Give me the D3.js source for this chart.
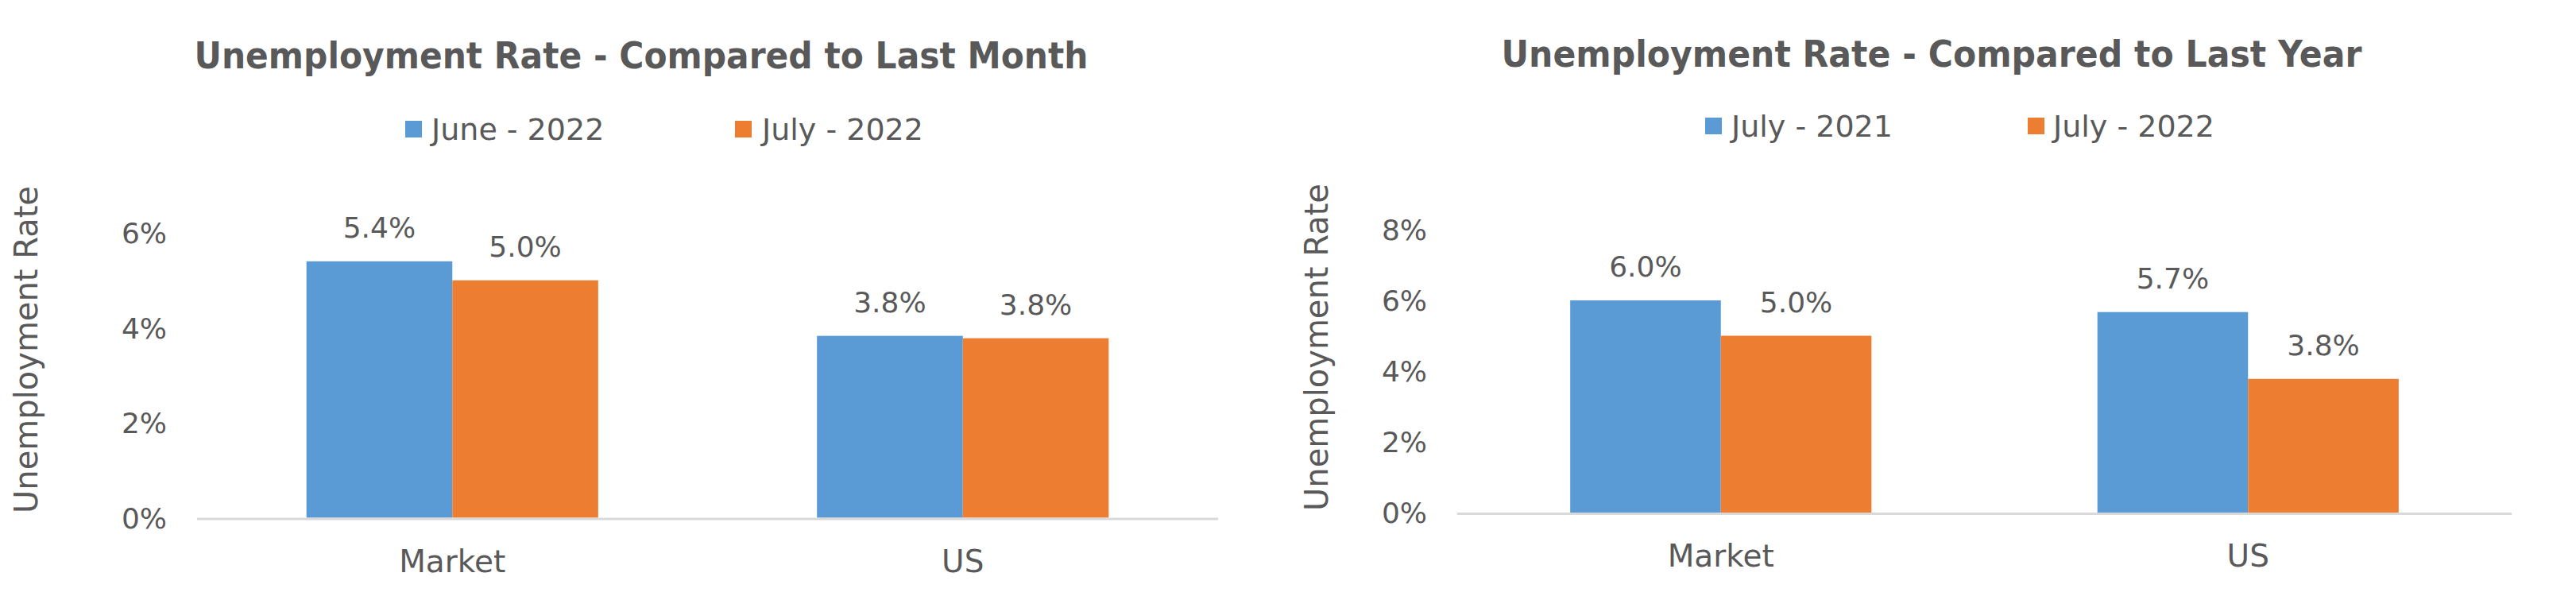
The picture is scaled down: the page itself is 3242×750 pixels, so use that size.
<!DOCTYPE html>
<html>
<head>
<meta charset="utf-8">
<script src="https://cdn.jsdelivr.net/npm/d3@7"></script>
<style>
  html, body { margin: 0; padding: 0; background: #ffffff; }
  svg { display: block; }
  text { font-family: "DejaVu Sans", "Open Sans", sans-serif; fill: #595959; }
</style>
</head>
<body>
<svg id="chart" width="3242" height="750"></svg>
<script>
// ---------------- DATA ----------------
const categories = ["Market", "US"];

const monthTitle = "Unemployment Rate - Compared to Last Month";
const monthSeriesNames = ["June - 2022", "July - 2022"];
const monthJune2022 = [5.4, 3.83];
const monthJuly2022 = [5.0, 3.78];
const monthTicks = [0, 2, 4, 6];

const yearTitle = "Unemployment Rate - Compared to Last Year";
const yearSeriesNames = ["July - 2021", "July - 2022"];
const yearJuly2021 = [6.0, 5.67];
const yearJuly2022 = [5.0, 3.78];
const yearTicks = [0, 2, 4, 6, 8];

const axisTitle = "Unemployment Rate";
const seriesColors = ["#5B9BD5", "#ED7D31"];

// ---------------- LAYOUT ----------------
const svg = d3.select("#chart");

const panels = [
  {
    title: monthTitle, names: monthSeriesNames, series: [monthJune2022, monthJuly2022], ticks: monthTicks,
    titleX: 807, titleY: 86, titleLen: 1125,
    legendSquareX: [510, 925], legendTextX: [543, 959], legendY: 152,
    plotX: [248, 1533], plotY: [651.5, 293],
    yTitleX: 47, yTitleY: 440, catY: 720
  },
  {
    title: yearTitle, names: yearSeriesNames, series: [yearJuly2021, yearJuly2022], ticks: yearTicks,
    titleX: 2431, titleY: 84, titleLen: 1083,
    legendSquareX: [2146, 2552], legendTextX: [2179, 2584], legendY: 148,
    plotX: [1834, 3161], plotY: [645, 289],
    yTitleX: 1671, yTitleY: 437, catY: 713
  }
];

panels.forEach(p => {
  const g = svg.append("g");

  // Title
  g.append("text")
    .attr("x", p.titleX).attr("y", p.titleY)
    .attr("text-anchor", "middle")
    .attr("textLength", p.titleLen)
    .attr("lengthAdjust", "spacingAndGlyphs")
    .style("font-size", "47px").style("font-weight", "bold")
    .text(p.title);

  // Legend
  p.names.forEach((name, i) => {
    g.append("rect")
      .attr("x", p.legendSquareX[i]).attr("y", p.legendY)
      .attr("width", 21).attr("height", 21)
      .attr("fill", seriesColors[i]);
    g.append("text")
      .attr("x", p.legendTextX[i]).attr("y", p.legendY + 24)
      .style("font-size", "38px")
      .text(name);
  });

  // Scales
  const y = d3.scaleLinear()
    .domain([0, d3.max(p.ticks)])
    .range(p.plotY);
  const x0 = d3.scaleBand()
    .domain(categories)
    .range(p.plotX)
    .paddingInner(0).paddingOuter(0);
  const groupW = x0.bandwidth() * 2 / 3.5;
  const x1 = d3.scaleBand()
    .domain(d3.range(p.series.length))
    .range([-groupW / 2, groupW / 2]);

  // Y axis tick labels
  const yAxis = d3.axisLeft(y)
    .tickValues(p.ticks)
    .tickFormat(d => d + "%")
    .tickSize(0)
    .tickPadding(38);
  const ya = g.append("g")
    .attr("transform", `translate(${p.plotX[0]},0)`)
    .call(yAxis);
  ya.select(".domain").remove();
  ya.selectAll("text")
    .style("font-size", "36px")
    .style("font-family", null)
    .attr("fill", null)
    .attr("dy", "0.35em");

  // Y axis title
  g.append("text")
    .attr("transform", `translate(${p.yTitleX},${p.yTitleY}) rotate(-90)`)
    .attr("text-anchor", "middle")
    .style("font-size", "40px")
    .text(axisTitle);

  // Bars
  p.series.forEach((vals, si) => {
    g.append("g").selectAll("rect")
      .data(vals)
      .join("rect")
      .attr("x", (d, i) => x0(categories[i]) + x0.bandwidth() / 2 + x1(si))
      .attr("y", d => y(d))
      .attr("width", x1.bandwidth())
      .attr("height", d => y(0) - y(d))
      .attr("fill", seriesColors[si]);

    g.append("g").selectAll("text")
      .data(vals)
      .join("text")
      .attr("x", (d, i) => x0(categories[i]) + x0.bandwidth() / 2 + x1(si) + x1.bandwidth() / 2)
      .attr("y", d => y(d) - 30)
      .attr("text-anchor", "middle")
      .style("font-size", "36px")
      .text(d => d.toFixed(1) + "%");
  });

  // X axis
  const xAxis = d3.axisBottom(x0).tickSize(0).tickPadding(0);
  const xa = g.append("g")
    .attr("transform", `translate(0,${y(0)})`)
    .call(xAxis);
  xa.select(".domain").remove();
  xa.selectAll("text")
    .style("font-size", "39px")
    .style("font-family", null)
    .attr("fill", null)
    .attr("dy", null)
    .attr("y", p.catY - y(0));

  g.append("line")
    .attr("x1", p.plotX[0]).attr("x2", p.plotX[1])
    .attr("y1", y(0) + 1.5).attr("y2", y(0) + 1.5)
    .attr("stroke", "#D9D9D9").attr("stroke-width", 3);
});
</script>
</body>
</html>
